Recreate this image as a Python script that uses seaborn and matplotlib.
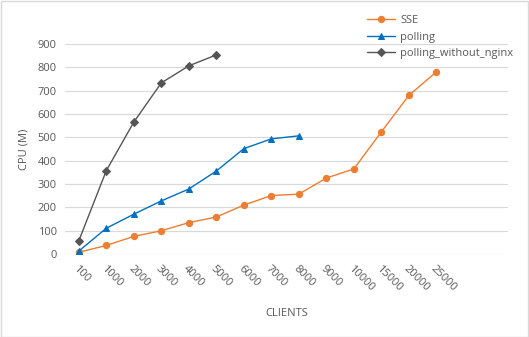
import matplotlib
matplotlib.use("Agg")
import matplotlib.pyplot as plt
import seaborn as sns
import pandas as pd

categories = ["100", "1000", "2000", "3000", "4000", "5000", "6000", "7000",
              "8000", "9000", "10000", "15000", "20000", "25000"]
sse = [8, 37, 76, 100, 135, 159, 210, 251, 257, 326, 365, 524, 680, 781]
polling = [13, 111, 171, 228, 279, 356, 452, 494, 507]
polling_without_nginx = [57, 358, 566, 734, 807, 854]
y_ticks = [0, 100, 200, 300, 400, 500, 600, 700, 800, 900]

sns.set_theme(style="white")
plt.rcParams['font.family'] = ['Open Sans', 'DejaVu Sans']
txt = "#595959"
fs = 8

fig = plt.figure(figsize=(5.29, 3.37), dpi=100)
ax = fig.add_axes([0.123, 0.246, 0.837, 0.623])

series = [
    ("SSE", sse, "#ED7D31", "o", 4.5),
    ("polling", polling, "#0070C0", "^", 5),
    ("polling_without_nginx", polling_without_nginx, "#555555", "D", 4),
]
for name, vals, col, mk, ms in series:
    df = pd.DataFrame({"x": list(range(len(vals))), "y": vals})
    sns.lineplot(data=df, x="x", y="y", ax=ax, color=col, marker=mk,
                 markersize=ms, markeredgecolor=col, linewidth=1.0, label=name)

ax.set_xlim(-0.5, 15.6)
ax.set_ylim(0, 900)
ax.set_yticks(y_ticks)
ax.set_yticklabels([str(v) for v in y_ticks], color=txt, fontsize=fs)
ax.set_xticks(range(len(categories)))
ax.set_xticklabels(categories, rotation=-45, ha="left", va="top",
                   rotation_mode="anchor", color=txt, fontsize=fs)
ax.tick_params(axis="y", length=0, pad=6)
ax.tick_params(axis="x", length=0, pad=7)
ax.grid(axis="y", color="#D9D9D9", linewidth=0.8)
ax.set_axisbelow(True)
for s in ax.spines.values():
    s.set_visible(False)
ax.set_xlabel("CLIENTS", color=txt, fontsize=fs, labelpad=10)
ax.set_ylabel("CPU (M)", color=txt, fontsize=fs, labelpad=6)

ax.legend_.remove()
h, l = ax.get_legend_handles_labels()
fig.legend(h, l, loc="upper left", bbox_to_anchor=(0.675, 0.985), frameon=False,
           fontsize=fs, labelcolor=txt, handlelength=2.5, handletextpad=0.5,
           labelspacing=0.5)

fig.patches.append(plt.Rectangle((0.001, 0.001), 0.997, 0.997, transform=fig.transFigure,
                                 fill=False, edgecolor="#D9D9D9", linewidth=1))
fig.savefig("out.png", dpi=100)
